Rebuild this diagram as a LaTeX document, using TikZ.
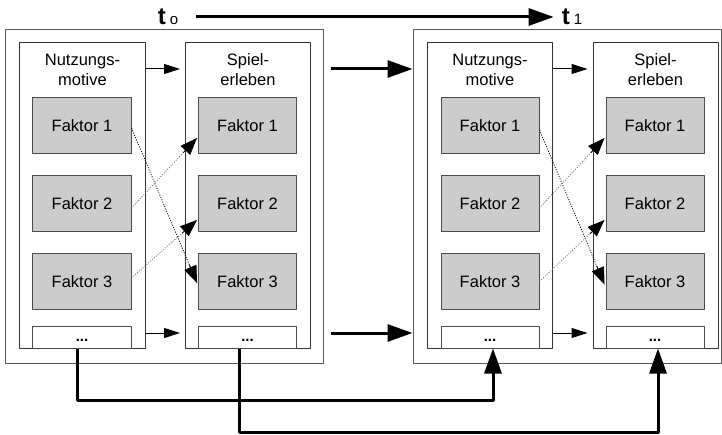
\documentclass[tikz,border=0pt]{standalone}
\usepackage{fontspec}
\setmainfont{Liberation Sans}
\usetikzlibrary{arrows.meta,calc}
\definecolor{boxgray}{rgb}{0.8,0.8,0.8}
\definecolor{linegray}{rgb}{0.35,0.35,0.35}
\begin{document}
\begin{tikzpicture}[x=1bp,y=-1bp,>=latex,line join=bevel,
  outer/.style={draw=linegray, line width=1bp, minimum width=#1, minimum height=333bp, inner sep=0pt},
  column/.style={draw=black!80, line width=1bp, minimum width=125bp, minimum height=305bp, inner sep=0pt},
  faktor/.style={draw=black!70, fill=boxgray, line width=1bp, minimum width=98bp, minimum height=56bp, inner sep=0pt, font=\fontsize{16.5bp}{20bp}\selectfont},
  more/.style={draw=black!70, line width=1bp, minimum width=98bp, minimum height=21bp, inner sep=0pt},
  head/.style={align=center, inner sep=0pt, font=\fontsize{16.5bp}{20bp}\selectfont},
  tlabel/.style={inner sep=0pt, font=\bfseries\fontsize{24bp}{24bp}\selectfont},
  thin/.style={-{Triangle[length=16bp,width=10bp]}, line width=1bp},
  thick/.style={-{Triangle[length=25bp,width=17bp]}, line width=3bp},
  link/.style={line width=0.8bp, dash pattern=on 1bp off 1.5bp},
  tip/.style={-{Triangle[length=17bp,width=13bp]}, line width=0.8bp},
  ]
%%
  \useasboundingbox (0,0) rectangle (722,435);
  % Node: time points
  \node[tlabel] (t0) at (168,17) {t\,{\fontsize{15bp}{15bp}\selectfont\mdseries o}};
  \node[tlabel] (t1) at (572,17) {t\,{\fontsize{15bp}{15bp}\selectfont\mdseries 1}};
  % Node: outer boxes
  \node[outer=317bp] (o0) at (164.5,196.5) {};
  \node[outer=308bp] (o1) at (567,196.5) {};
  % Node: columns
  \node[column] (col1) at (82.5,195.5) {};
  \node[column] (col2) at (248,195.5) {};
  \node[column] (col3) at (490,195.5) {};
  \node[column] (col4) at (655.5,195.5) {};
  \node[head] (h1) at (82.5,70) {Nutzungs-\\motive};
  \node[head] (h2) at (248,70) {Spiel-\\erleben};
  \node[head] (h3) at (490,70) {Nutzungs-\\motive};
  \node[head] (h4) at (655.5,70) {Spiel-\\erleben};
  % Node: factors
  \foreach \n/\x in {a/82,b/247.5,c/490,d/655}{
    \node[faktor] (\n1) at (\x,126) {Faktor 1};
    \node[faktor] (\n2) at (\x,204) {Faktor 2};
    \node[faktor] (\n3) at (\x,281.5) {Faktor 3};
    \node[more] (\n4) at (\x,337.5) {};
    \node[inner sep=0pt, font=\bfseries\fontsize{15bp}{15bp}\selectfont] at (\x,340) {...};
  }
  % Edge: t0 -> t1
  \draw[thick] ([xshift=18bp]t0.east) -- ([xshift=-8bp]t1.west);
  % Edge: columns
  \draw[thin, shorten >=5bp] (col1.east |- 0,69) -- (col2.west |- 0,69);
  \draw[thin, shorten >=5bp] (col1.east |- 0,333) -- (col2.west |- 0,333);
  \draw[thin, shorten >=5bp] (col3.east |- 0,69) -- (col4.west |- 0,69);
  \draw[thin, shorten >=5bp] (col3.east |- 0,333) -- (col4.west |- 0,333);
  % Edge: t0 -> t1 boxes
  \draw[thick, shorten <=7bp] (o0.east |- 0,69) -- (o1.west |- 0,69);
  \draw[thick, shorten <=7bp] (o0.east |- 0,333) -- (o1.west |- 0,333);
  % Edge: factors (dotted line, solid tip)
  \foreach \s/\t/\dy/\ty/\col in {a1/b3/-2/-1.5/black, a2/b1/-4/-12/black!55, a3/b2/3.5/-16/black!55,
                                  c1/d3/-4/-3/black, c2/d1/-4/-12/black!55, c3/d2/0/-16/black!55}{
    \draw[link, draw=\col] ([yshift=\dy bp]\s.east) -- ([xshift=-1bp,yshift=\ty bp]\t.west);
    \draw[tip] ($([xshift=-1bp,yshift=\ty bp]\t.west)!20bp!([yshift=\dy bp]\s.east)$) -- ([xshift=-1bp,yshift=\ty bp]\t.west);
  }
  % Edge: feedback
  \draw[thick, line join=round] ([xshift=-5bp]a4.south) -- ++(0,52) -| ([xshift=3bp]c4.south);
  \draw[thick, line join=round] ([xshift=-8bp]b4.south) -- ++(0,84) -| ([xshift=3bp]d4.south);
%
\end{tikzpicture}
\end{document}
